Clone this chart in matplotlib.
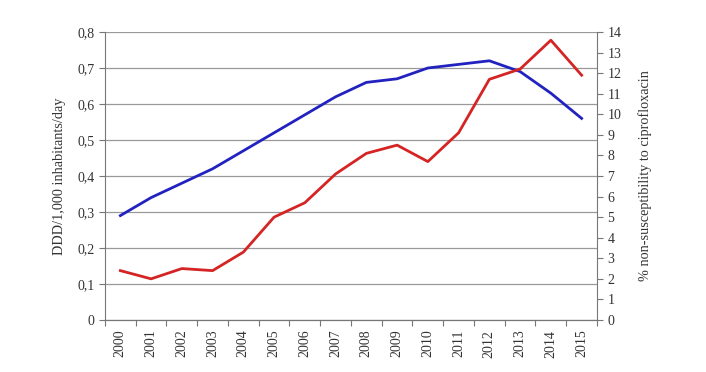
import numpy as np
import matplotlib
matplotlib.use('Agg')
from matplotlib import pyplot as plt
from matplotlib.ticker import FuncFormatter

plt.rcParams['font.family'] = 'Liberation Serif'

years = ['2000', '2001', '2002', '2003', '2004', '2005', '2006', '2007',
         '2008', '2009', '2010', '2011', '2012', '2013', '2014', '2015']
ddd = [0.29, 0.34, 0.38, 0.42, 0.47, 0.52, 0.57, 0.62,
       0.66, 0.67, 0.70, 0.71, 0.72, 0.69, 0.63, 0.56]
nonsusc = [2.4, 2.0, 2.5, 2.4, 3.3, 5.0, 5.7, 7.1,
           8.1, 8.5, 7.7, 9.1, 11.7, 12.2, 13.6, 11.9]

fig = plt.figure(figsize=(7.06, 3.72), dpi=100)
ax = fig.add_axes([0.1487, 0.1398, 0.6969, 0.7742])
ax2 = ax.twinx()

x = np.arange(len(years))
ax.plot(x, ddd, color='#2222c0', lw=2.0, zorder=3)
ax2.plot(x, nonsusc, color='#d42424', lw=2.0, zorder=3)

ax.set_xlim(-0.5, len(years) - 0.5)
ax.set_ylim(0, 0.8)
ax2.set_ylim(0, 14)

ax.set_yticks(np.arange(0, 0.81, 0.1))
ax.yaxis.set_major_formatter(FuncFormatter(lambda v, p: ('%.1f' % v).replace('.', ',') if v > 0 else '0'))
ax2.set_yticks(np.arange(0, 15, 1))

# category ticks between the years, labels in the middle
ax.set_xticks(np.arange(-0.5, len(years), 1))
ax.set_xticklabels([])
ax.set_xticks(x, minor=True)
ax.set_xticklabels(years, minor=True, rotation=90, fontsize=10)
ax.tick_params(axis='x', which='minor', length=0, pad=7, colors='#333333')
ax.tick_params(axis='x', which='major', length=4, color='#777777')

ax.yaxis.grid(True, color='#999999', lw=0.9)
ax.set_axisbelow(True)

for a in (ax, ax2):
    a.spines['top'].set_visible(False)
    a.spines['left'].set_color('#777777')
    a.spines['right'].set_color('#777777')
    a.spines['bottom'].set_color('#777777')
    a.tick_params(axis='y', labelsize=10, colors='#333333', length=4)
ax2.spines['left'].set_visible(False)
ax.spines['right'].set_visible(False)
ax2.tick_params(axis='y', color='#777777')
ax.tick_params(axis='y', color='#777777')

ax.set_ylabel('DDD/1,000 inhabitants/day', fontsize=10.3, color='#333333', labelpad=8)
ax2.set_ylabel('% non-susceptibility to ciprofloxacin', fontsize=10.3, color='#333333', labelpad=12)

plt.savefig('out.png', dpi=100)
